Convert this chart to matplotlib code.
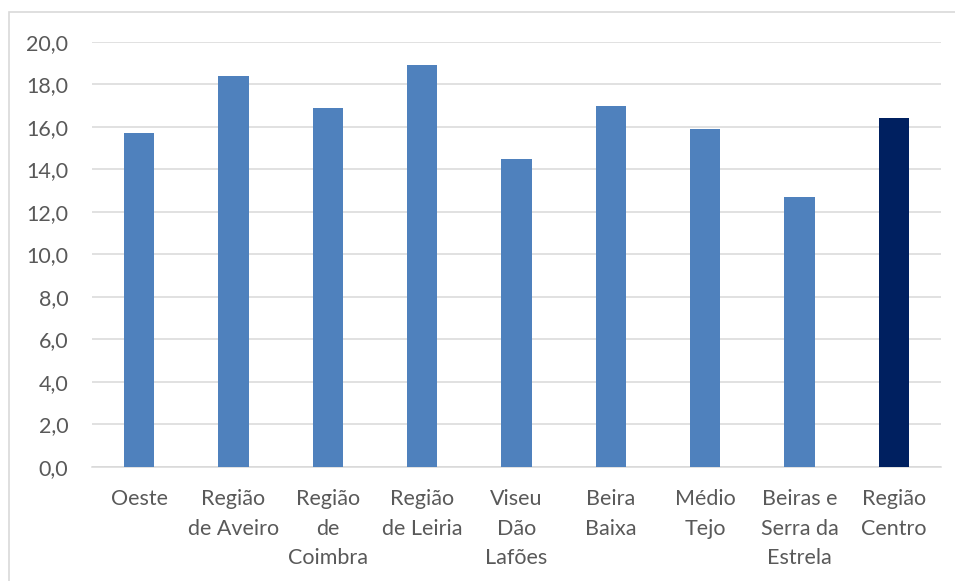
import matplotlib.pyplot as plt
from matplotlib.patches import Rectangle

# NUTS III regions of the Centro and the regional total
regions = [
    "Oeste",
    "Região\nde Aveiro",
    "Região\nde\nCoimbra",
    "Região\nde Leiria",
    "Viseu\nDão\nLafões",
    "Beira\nBaixa",
    "Médio\nTejo",
    "Beiras e\nSerra da\nEstrela",
    "Região\nCentro",
]
values = [15.7, 18.4, 16.9, 18.9, 14.5, 17.0, 15.9, 12.7, 16.4]
y_ticks = [0, 2, 4, 6, 8, 10, 12, 14, 16, 18, 20]

BAR_COLOR = "#4F81BD"
TOTAL_COLOR = "#002060"
GRID_COLOR = "#D9D9D9"
TEXT_COLOR = "#595959"

plt.rcParams["font.family"] = ["Lato", "DejaVu Sans"]

fig = plt.figure(figsize=(9.55, 5.81), dpi=100)
ax = fig.add_axes([0.0963, 0.1962, 0.889, 0.732])

colors = [BAR_COLOR] * (len(values) - 1) + [TOTAL_COLOR]
ax.bar(range(len(values)), values, width=0.32, color=colors, zorder=3)

ax.set_xlim(-0.5, len(values) - 0.5)
ax.set_ylim(0, 20)
ax.set_yticks(y_ticks)
ax.set_yticklabels([f"{t:.1f}".replace(".", ",") for t in y_ticks])
ax.set_xticks(range(len(values)))
ax.set_xticklabels(regions, linespacing=1.6, va="top")

ax.yaxis.grid(True, color=GRID_COLOR, linewidth=1.1, zorder=0)
ax.set_axisbelow(True)
for side in ("top", "right", "left"):
    ax.spines[side].set_visible(False)
ax.spines["bottom"].set_color(GRID_COLOR)
ax.spines["bottom"].set_linewidth(1.1)

ax.tick_params(axis="both", length=0, labelsize=15.5, labelcolor=TEXT_COLOR)
ax.tick_params(axis="y", pad=17)
ax.tick_params(axis="x", pad=16)

# chart area frame
fig.patches.append(Rectangle((9 / 955, -0.05), 1.1, (581 - 12) / 581 + 0.05,
                             transform=fig.transFigure, fill=False,
                             edgecolor=GRID_COLOR, linewidth=1.2))

fig.savefig("out.png", dpi=100)
